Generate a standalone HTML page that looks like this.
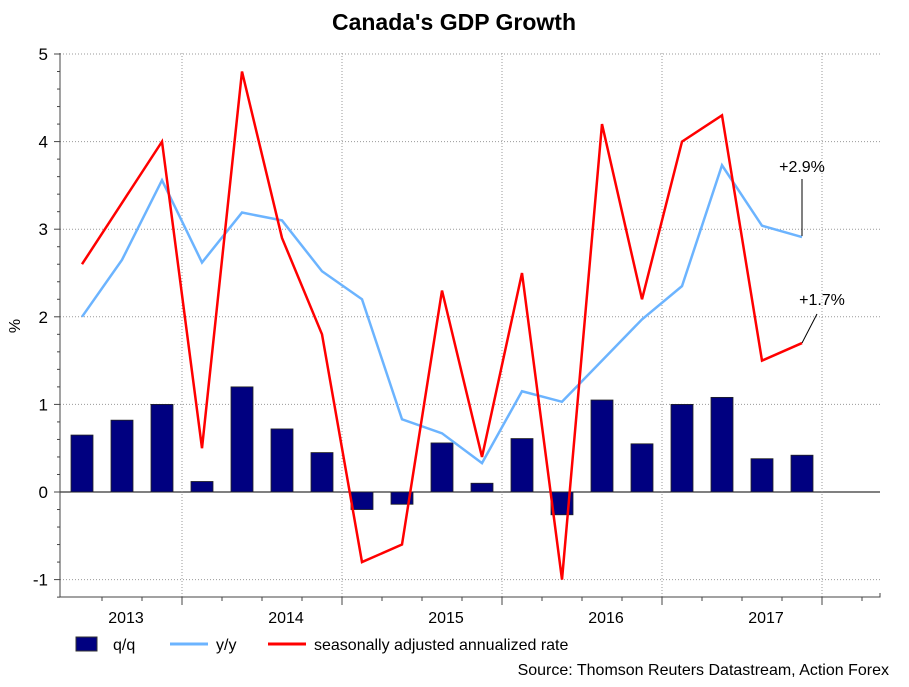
<!DOCTYPE html>
<html><head><meta charset="utf-8"><style>
body{margin:0;background:#fff;font-family:"Liberation Sans",Arial,sans-serif}
svg text{font-family:"Liberation Sans",Arial,sans-serif}
</style></head><body>
<svg id="c" width="909" height="682" xmlns="http://www.w3.org/2000/svg">
<text x="454" y="30" text-anchor="middle" font-size="23" font-weight="bold">Canada's GDP Growth</text>
<text x="20" y="326" text-anchor="middle" font-size="16" transform="rotate(-90 20 326)">%</text>
<g id="grid"></g><g id="bars"></g><g id="lines"></g><g id="axes"></g>
<line x1="802" y1="236" x2="802" y2="179" stroke="#000" stroke-width="1"/>
<text x="802" y="172" text-anchor="middle" font-size="16">+2.9%</text>
<line x1="802" y1="343" x2="817" y2="314" stroke="#000" stroke-width="1"/>
<text x="822" y="305" text-anchor="middle" font-size="16">+1.7%</text>
<g>
<rect x="76" y="637" width="21" height="14" fill="#000080" stroke="#333"/>
<text x="113" y="650" font-size="16">q/q</text>
<line x1="170" y1="644" x2="208" y2="644" stroke="#6cb4ff" stroke-width="3"/>
<text x="216" y="650" font-size="16">y/y</text>
<line x1="268" y1="644" x2="306" y2="644" stroke="#ff0000" stroke-width="3"/>
<text x="314" y="650" font-size="16">seasonally adjusted annualized rate</text>
</g>
<text x="889" y="675" text-anchor="end" font-size="16">Source: Thomson Reuters Datastream, Action Forex</text>
</svg>
<script>
const qq=[0.65,0.82,1.0,0.12,1.2,0.72,0.45,-0.2,-0.14,0.56,0.1,0.61,-0.26,1.05,0.55,1.0,1.08,0.38,0.42];
const yy=[2.0,2.65,3.56,2.62,3.19,3.1,2.52,2.2,0.83,0.67,0.33,1.15,1.03,1.5,1.97,2.35,3.73,3.04,2.91];
const saar=[2.6,3.3,4.0,0.5,4.8,2.9,1.8,-0.8,-0.6,2.3,0.4,2.5,-1.0,4.2,2.2,4.0,4.3,1.5,1.7];
const years=["2013","2014","2015","2016","2017"];
const yTicks=[-1,0,1,2,3,4,5];
const NS="http://www.w3.org/2000/svg";
const L=60,R=880,B=597,T=53;
const X=i=>82+40*i;
const Y=v=>492-87.6*v;
function mk(p,t,a){const e=document.createElementNS(NS,t);for(const k in a)e.setAttribute(k,a[k]);document.getElementById(p).appendChild(e);return e;}
yTicks.forEach(v=>{
 const g=mk('grid','line',{x1:L,x2:R,y1:Y(v),y2:Y(v),stroke:v===0?'#000':'#999','stroke-dasharray':v===0?'':'1,2'});
 
 
 const t=mk('axes','text',{x:L-12,y:Y(v)+6,'text-anchor':'end','font-size':17});
 t.textContent=v;
 
 
});
for(let v=-1.2;v<=5.001;v+=0.2){
 const big=Math.abs(v-Math.round(v))<0.01;
 const tk=mk('axes','line',{x1:L-(big?6:3),x2:L,y1:Y(v),y2:Y(v),stroke:'#444'});
 
 
}
years.forEach((y,k)=>{
 const xb=182+160*k;
 const g=mk('grid','line',{x1:xb,x2:xb,y1:T,y2:B,stroke:'#999','stroke-dasharray':'1,2'});
 
 
 const t=mk('axes','text',{x:xb-56,y:623,'text-anchor':'middle','font-size':16});
 t.textContent=y;
 
 
});
for(let x=102;x<R;x+=40){
 const major=(x-182)%160===0;
 const tk=mk('axes','line',{x1:x,x2:x,y1:B,y2:B+(major?8:4),stroke:'#444'});
 
 
}
const ax=mk('axes','path',{d:`M${L} ${T}V${B}H${R}V${B-4}`,fill:'none',stroke:'#444'});


qq.forEach((v,i)=>{
 const r=mk('bars','rect',{x:X(i)-11,y:Math.min(Y(v),Y(0)),width:22,height:Math.abs(Y(v)-Y(0)),fill:'#000080',stroke:'#222','stroke-width':0.8});
 
 
});
const p1=mk('lines','polyline',{points:yy.map((v,i)=>X(i)+','+Y(v)).join(' '),fill:'none',stroke:'#6cb4ff','stroke-width':2.5});


const p2=mk('lines','polyline',{points:saar.map((v,i)=>X(i)+','+Y(v)).join(' '),fill:'none',stroke:'#ff0000','stroke-width':2.5});


</script>
</body></html>
